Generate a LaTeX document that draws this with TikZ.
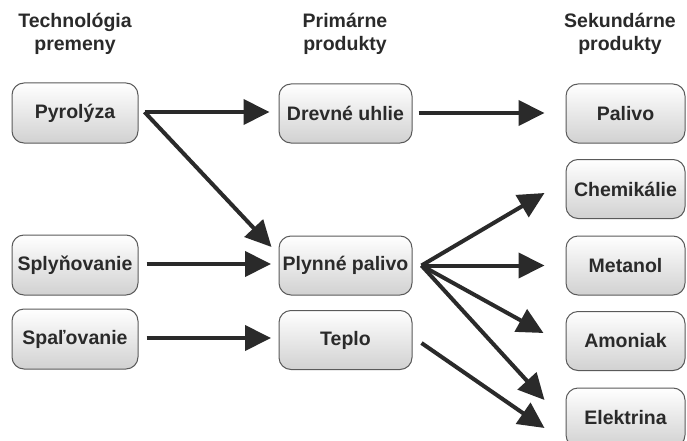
\documentclass[tikz,border=0pt]{standalone}
\usepackage{fontspec}
\setmainfont{Liberation Sans}
\usetikzlibrary{arrows.meta}
\definecolor{ink}{HTML}{2A2A2A}
\definecolor{rim}{HTML}{5A5A5A}
\tikzset{
  box/.style={draw=rim, line width=1pt, rounded corners=12pt,
    top color=white, bottom color=black!18, text=ink,
    font=\fontsize{19.5}{23}\selectfont\bfseries, inner sep=0pt, align=center},
  leftbox/.style={box, minimum width=126pt, minimum height=60pt},
  midbox/.style={box, minimum width=133pt, minimum height=59pt},
  rightbox/.style={box, minimum width=119pt, minimum height=59pt},
  head/.style={text=ink, font=\fontsize{19.5}{23}\selectfont\bfseries, align=center},
  arr/.style={draw=ink, line width=4pt,
    -{Triangle[length=26pt,width=25pt]}, shorten >=0pt}
}
\begin{document}
\begin{tikzpicture}[x=1pt,y=-1pt]
\useasboundingbox[fill=white] (0,0) rectangle (687,441);

% column headings
\node[head] (h1) at (75,34) {Technológia\\premeny};
\node[head] (h2) at (345,34) {Primárne\\produkty};
\node[head] (h3) at (620,34) {Sekundárne\\produkty};

% conversion technologies
\node[leftbox] (pyr) at (75,113) {Pyrolýza};
\node[leftbox] (sply) at (75,265) {Splyňovanie};
\node[leftbox] (spal) at (75,339) {Spaľovanie};

% primary products
\node[midbox] (drev) at (345.5,113.5) {Drevné uhlie};
\node[midbox] (plyn) at (345.5,265.5) {Plynné palivo};
\node[midbox] (tep) at (345.5,340) {Teplo};

% secondary products
\node[rightbox] (pal) at (625.5,113.5) {Palivo};
\node[rightbox] (chem) at (625.5,189) {Chemikálie};
\node[rightbox] (met) at (625.5,265.5) {Metanol};
\node[rightbox] (amo) at (625.5,341) {Amoniak};
\node[rightbox] (ele) at (625.5,417.5) {Elektrina};

% flows
\draw[arr] ([xshift=6pt,yshift=1pt]pyr.east) -- ([xshift=-9pt,yshift=1.5pt]drev.west);
\draw[arr] ([xshift=6pt,yshift=1pt]pyr.east) -- ([xshift=-7pt,yshift=18.5pt]plyn.west);
\draw[arr] ([xshift=6pt,yshift=0.5pt]drev.east) -- ([xshift=-21pt,yshift=0.5pt]pal.west);
\draw[arr] ([xshift=8pt,yshift=1pt]sply.east) -- ([xshift=-7.5pt,yshift=1.5pt]plyn.west);
\draw[arr] ([xshift=8pt,yshift=1pt]spal.east) -- ([xshift=-7.5pt,yshift=2pt]tep.west);
\draw[arr] ([xshift=9pt]plyn.east) -- ([xshift=-21pt,yshift=-4pt]chem.west);
\draw[arr] ([xshift=9pt]plyn.east) -- ([xshift=-21pt]met.west);
\draw[arr] ([xshift=9pt]plyn.east) -- ([xshift=-22pt,yshift=8pt]amo.west);
\draw[arr] ([xshift=9pt]plyn.east) -- ([xshift=-21pt,yshift=17.5pt]ele.west);
\draw[arr] ([xshift=9pt,yshift=-3pt]tep.east) -- ([xshift=-21pt,yshift=-10.5pt]ele.west);
\end{tikzpicture}
\end{document}
